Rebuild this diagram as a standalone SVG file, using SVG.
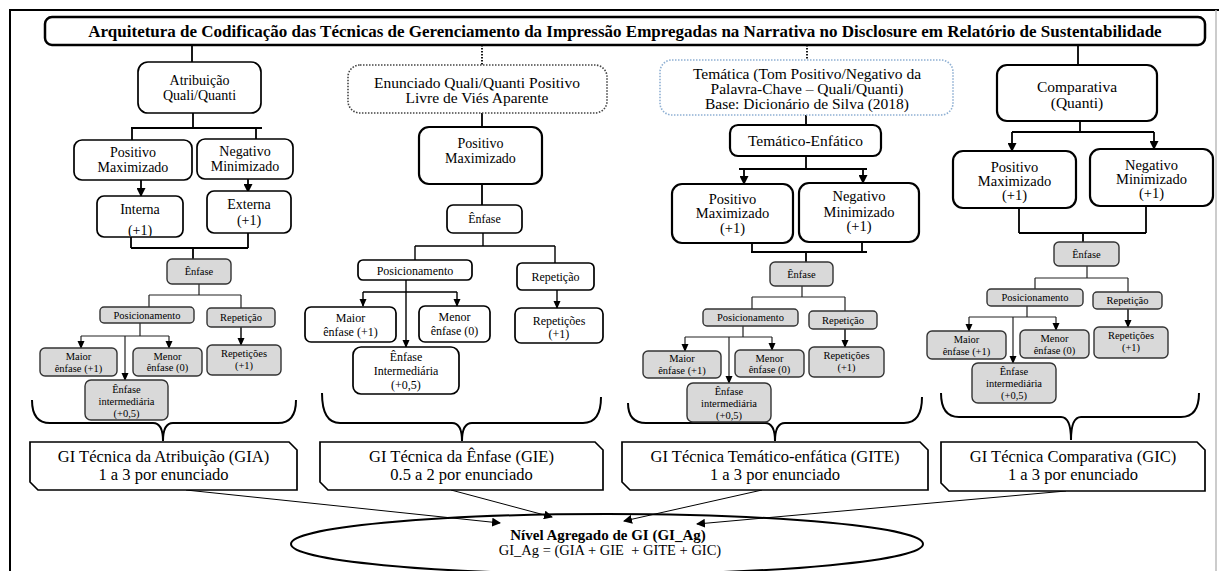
<svg xmlns="http://www.w3.org/2000/svg" width="1219" height="571" viewBox="0 0 1219 571">
<defs>
<marker id="ah" markerUnits="userSpaceOnUse" markerWidth="9" markerHeight="9" refX="8" refY="4.5" orient="auto"><path d="M0,0 L9,4.5 L0,9 Z" fill="#000"/></marker>
<marker id="as" markerUnits="userSpaceOnUse" markerWidth="8" markerHeight="8" refX="7" refY="4" orient="auto"><path d="M0,0.5 L8,4 L0,7.5 Z" fill="#000"/></marker>
<clipPath id="clipInt"><rect x="97" y="196" width="86" height="40"/></clipPath>
<style>
text{font-family:"Liberation Serif","Times New Roman",serif;text-anchor:middle;fill:#000}
.n{fill:#fff;stroke:#000;stroke-width:1.7}
.nb{fill:#fff;stroke:#000;stroke-width:2.2}
.g{fill:#d9d9d9;stroke:#333;stroke-width:1.4}
.c{fill:none;stroke:#000;stroke-width:1.8}
.cs{fill:none;stroke:#000;stroke-width:1.4}
.cg{fill:none;stroke:#222;stroke-width:1.2}
.br{fill:none;stroke:#000;stroke-width:2}
.f14{font-size:14px}
.f145{font-size:14.5px}
.f15{font-size:15.5px}
.f12{font-size:12px}
.f10{font-size:10.5px}
.gi{font-size:16.5px}
</style>
</defs>
<rect width="1219" height="571" fill="#fff"/>
<!-- outer frame -->
<path d="M10,571 L10,10 L1219,10" fill="none" stroke="#000" stroke-width="2"/>
<line x1="1216" y1="10" x2="1216" y2="571" stroke="#bbb" stroke-width="1.5"/>

<g id="title">
<rect x="45" y="17" width="1160" height="28" rx="7" fill="#fff" stroke="#000" stroke-width="2.5"/>
<text x="625" y="36.5" font-size="17" font-weight="bold">Arquitetura de Codificação das Técnicas de Gerenciamento da Impressão Empregadas na Narrativa no Disclosure em Relatório de Sustentabilidade</text>
</g>

<g id="connectors">
<!-- from title -->
<line x1="192" y1="45" x2="192" y2="62" class="c"/>
<line x1="482" y1="45" x2="482" y2="65" stroke="#000" stroke-width="1.8" stroke-dasharray="1.5 1.5"/>
<line x1="807" y1="45" x2="807" y2="60" stroke="#000" stroke-width="1.8" stroke-dasharray="1.5 1.5"/>
<line x1="1078" y1="45" x2="1078" y2="65" class="c"/>
<!-- column 1 -->
<path class="c" d="M193,113 V128 M131,128 H262 M132,128 V140 M256,127 V139"/>
<line class="c" x1="141" y1="180" x2="141" y2="196" marker-end="url(#ah)"/>
<line class="c" x1="248" y1="179" x2="248" y2="192" marker-end="url(#ah)"/>
<path class="c" d="M131,237 V248 M248,233 V248 M131,248 H248 M193,248 V259"/>
<path class="cg" d="M199,284 V295 M149,295 H241 M149,295 V307 M241,295 V308 M140,323 V336 M81,336 H169"/>
<line class="cg" x1="81" y1="336" x2="81" y2="348" marker-end="url(#as)"/>
<line class="cg" x1="169" y1="336" x2="169" y2="348" marker-end="url(#as)"/>
<line class="cg" x1="125" y1="336" x2="125" y2="380" marker-end="url(#as)"/>
<line class="cs" x1="241" y1="327" x2="241" y2="345" marker-end="url(#as)"/>
<!-- column 2 -->
<path class="c" d="M482,113 V127 M482,184 V205"/>
<path class="cs" d="M483,233 V246 M415,246 H555 M415,246 V260 M555,246 V263 M363,292 H457"/>
<line class="cs" x1="406" y1="280" x2="406" y2="347" marker-end="url(#as)"/>
<line class="cs" x1="363" y1="292" x2="363" y2="306" marker-end="url(#as)"/>
<line class="cs" x1="457" y1="292" x2="457" y2="306" marker-end="url(#as)"/>
<line class="cs" x1="557" y1="290" x2="557" y2="308" marker-end="url(#as)"/>
<!-- column 3 -->
<path class="c" d="M806,115 V125 M806,156 V169 M739,169 H867"/>
<line class="c" x1="744" y1="169" x2="744" y2="184" marker-end="url(#ah)"/>
<line class="c" x1="863" y1="169" x2="863" y2="183" marker-end="url(#ah)"/>
<path class="c" d="M752,243 V252 M862,242 V252 M751,252 H867 M806,252 V262"/>
<path class="cg" d="M802,286 V297 M752,297 H845 M752,297 V309 M845,297 V311 M743,326 V337 M685,337 H772"/>
<line class="cg" x1="685" y1="337" x2="685" y2="351" marker-end="url(#as)"/>
<line class="cg" x1="772" y1="337" x2="772" y2="350" marker-end="url(#as)"/>
<line class="cg" x1="729" y1="337" x2="729" y2="383" marker-end="url(#as)"/>
<line class="cs" x1="845" y1="329" x2="845" y2="347" marker-end="url(#as)"/>
<!-- column 4 -->
<path class="c" d="M1080,121 V132 M1012,132 H1154"/>
<line class="c" x1="1012" y1="132" x2="1012" y2="151" marker-end="url(#ah)"/>
<line class="c" x1="1154" y1="132" x2="1154" y2="149" marker-end="url(#ah)"/>
<path class="c" d="M1019,208 V233 M1146,206 V233 M1019,233 H1146 M1083,233 V242"/>
<path class="cg" d="M1087,266 V278 M1035,278 H1128 M1035,278 V289 M1128,278 V292 M1027,306 V317 M969,317 H1056"/>
<line class="cg" x1="969" y1="317" x2="969" y2="331" marker-end="url(#as)"/>
<line class="cg" x1="1056" y1="317" x2="1056" y2="330" marker-end="url(#as)"/>
<line class="cg" x1="1013" y1="317" x2="1013" y2="363" marker-end="url(#as)"/>
<line class="cs" x1="1128" y1="309" x2="1128" y2="327" marker-end="url(#as)"/>
<!-- braces -->
<path class="br" d="M32,400 Q32,423 50,423 L153,423 Q163,423 163,441 Q163,423 173,423 L278,423 Q296,423 296,400"/>
<path class="br" d="M322,393 Q322,423 340,423 L452,423 Q462,423 462,441 Q462,423 472,423 L583,423 Q601,423 601,397"/>
<path class="br" d="M628,403 Q628,423 646,423 L765,423 Q775,423 775,441 Q775,423 785,423 L904,423 Q922,423 922,397"/>
<path class="br" d="M941,393 Q941,417 959,417 L1061,417 Q1071,417 1071,440 Q1071,417 1081,417 L1181,417 Q1199,417 1199,393"/>
<!-- to aggregate -->
<line x1="186" y1="490" x2="500" y2="523" stroke="#000" stroke-width="1" marker-end="url(#ah)"/>
<line x1="451" y1="490" x2="552" y2="517" stroke="#000" stroke-width="1" marker-end="url(#ah)"/>
<line x1="762" y1="490" x2="624" y2="521" stroke="#000" stroke-width="1" marker-end="url(#ah)"/>
<line x1="1066" y1="491" x2="697" y2="524" stroke="#000" stroke-width="1" marker-end="url(#ah)"/>
</g>

<!-- Column 1 -->
<g id="atribuicao"><rect class="n" x="138" y="62" width="123" height="51" rx="10"/><text class="f14" x="199.5" y="85">Atribuição</text><text class="f14" x="199.5" y="100">Quali/Quanti</text></g>
<g id="c1-positivo"><rect class="n" x="74" y="140" width="118" height="40" rx="8"/><text class="f14" x="133" y="157">Positivo</text><text class="f14" x="133" y="172">Maximizado</text></g>
<g id="c1-negativo"><rect class="n" x="197" y="139" width="96" height="40" rx="8"/><text class="f14" x="245" y="156">Negativo</text><text class="f14" x="245" y="171">Minimizado</text></g>
<g id="c1-interna"><rect class="n" x="97" y="196" width="86" height="41" rx="7"/><text class="f14" x="140" y="214">Interna</text><text class="f14" x="140" y="234.5" clip-path="url(#clipInt)">(+1)</text></g>
<g id="c1-externa"><rect class="n" x="207" y="191" width="84" height="42" rx="7"/><text class="f14" x="249" y="209">Externa</text><text class="f14" x="249" y="225">(+1)</text></g>
<g id="c1-enfase"><rect class="g" x="167" y="259" width="64" height="25" rx="5"/><text class="f10" x="199" y="275">Ênfase</text></g>
<g id="c1-posic"><rect class="g" x="100" y="307" width="94" height="16" rx="4"/><text class="f10" x="147" y="319">Posicionamento</text></g>
<g id="c1-repet"><rect class="g" x="207" y="308" width="68" height="19" rx="4"/><text class="f10" x="241" y="321">Repetição</text></g>
<g id="c1-maior"><rect class="g" x="40" y="348" width="77" height="28" rx="5"/><text class="f10" x="78.5" y="360">Maior</text><text class="f10" x="78.5" y="372">ênfase (+1)</text></g>
<g id="c1-menor"><rect class="g" x="133" y="348" width="69" height="28" rx="5"/><text class="f10" x="167.5" y="360">Menor</text><text class="f10" x="167.5" y="371">ênfase (0)</text></g>
<g id="c1-repeticoes"><rect class="g" x="207" y="345" width="74" height="30" rx="5"/><text class="f10" x="244" y="357">Repetições</text><text class="f10" x="244" y="369">(+1)</text></g>
<g id="c1-intermed"><rect class="g" x="85" y="380" width="83" height="40" rx="6"/><text class="f10" x="126.5" y="393">Ênfase</text><text class="f10" x="126.5" y="405">intermediária</text><text class="f10" x="126.5" y="417">(+0,5)</text></g>

<!-- Column 2 -->
<g id="enunciado"><rect x="348" y="65" width="259" height="48" rx="12" fill="#fff" stroke="#444" stroke-width="1.6" stroke-dasharray="1.5 1.5"/><text class="f15" x="477" y="88">Enunciado Quali/Quanti Positivo</text><text class="f15" x="477" y="103">Livre de Viés Aparente</text></g>
<g id="c2-positivo"><rect class="nb" x="419" y="127" width="123" height="57" rx="10"/><text class="f14" x="480.5" y="148">Positivo</text><text class="f14" x="480.5" y="163">Maximizado</text></g>
<g id="c2-enfase"><rect class="n" x="447" y="205" width="75" height="28" rx="6"/><text class="f12" x="484.5" y="223">Ênfase</text></g>
<g id="c2-posic"><rect class="n" x="358" y="260" width="114" height="20" rx="5"/><text class="f12" x="415" y="275">Posicionamento</text></g>
<g id="c2-repet"><rect class="n" x="517" y="263" width="77" height="27" rx="5"/><text class="f12" x="555.5" y="281">Repetição</text></g>
<g id="c2-maior"><rect class="n" x="305" y="307" width="91" height="35" rx="6"/><text class="f12" x="350.5" y="322">Maior</text><text class="f12" x="350.5" y="336">ênfase (+1)</text></g>
<g id="c2-menor"><rect class="n" x="419" y="306" width="71" height="36" rx="6"/><text class="f12" x="454.5" y="321">Menor</text><text class="f12" x="454.5" y="335">ênfase (0)</text></g>
<g id="c2-repeticoes"><rect class="n" x="515" y="308" width="88" height="35" rx="6"/><text class="f12" x="559" y="325">Repetições</text><text class="f12" x="559" y="338">(+1)</text></g>
<g id="c2-intermed"><rect class="n" x="353" y="347" width="106" height="47" rx="8"/><text class="f12" x="406" y="361">Ênfase</text><text class="f12" x="406" y="375">Intermediária</text><text class="f12" x="406" y="389">(+0,5)</text></g>

<!-- Column 3 -->
<g id="tematica"><rect x="660" y="60" width="293" height="55" rx="12" fill="#fff" stroke="#8fb0d3" stroke-width="1.6" stroke-dasharray="1.5 1.5"/><text class="f15" x="807" y="79">Temática (Tom Positivo/Negativo da</text><text class="f15" x="807" y="94">Palavra-Chave – Quali/Quanti)</text><text class="f15" x="807" y="109">Base: Dicionário de Silva (2018)</text></g>
<g id="tematico-enfatico"><rect class="nb" x="730" y="125" width="151" height="31" rx="8"/><text class="f15" x="805.5" y="146">Temático-Enfático</text></g>
<g id="c3-positivo"><rect class="nb" x="672" y="184" width="121" height="59" rx="10"/><text class="f145" x="732.5" y="204">Positivo</text><text class="f145" x="732.5" y="218">Maximizado</text><text class="f145" x="732.5" y="233">(+1)</text></g>
<g id="c3-negativo"><rect class="nb" x="799" y="183" width="120" height="59" rx="10"/><text class="f145" x="859" y="201">Negativo</text><text class="f145" x="859" y="217">Minimizado</text><text class="f145" x="859" y="231">(+1)</text></g>
<g id="c3-enfase"><rect class="g" x="770" y="262" width="63" height="24" rx="5"/><text class="f10" x="801.5" y="278">Ênfase</text></g>
<g id="c3-posic"><rect class="g" x="703" y="309" width="95" height="17" rx="4"/><text class="f10" x="750.5" y="321">Posicionamento</text></g>
<g id="c3-repet"><rect class="g" x="809" y="311" width="68" height="18" rx="4"/><text class="f10" x="843" y="324">Repetição</text></g>
<g id="c3-maior"><rect class="g" x="643" y="351" width="78" height="27" rx="5"/><text class="f10" x="682" y="362">Maior</text><text class="f10" x="682" y="374">ênfase (+1)</text></g>
<g id="c3-menor"><rect class="g" x="735" y="350" width="69" height="27" rx="5"/><text class="f10" x="769.5" y="362">Menor</text><text class="f10" x="769.5" y="373">ênfase (0)</text></g>
<g id="c3-repeticoes"><rect class="g" x="809" y="347" width="75" height="30" rx="5"/><text class="f10" x="846.5" y="359">Repetições</text><text class="f10" x="846.5" y="371">(+1)</text></g>
<g id="c3-intermed"><rect class="g" x="687" y="383" width="84" height="39" rx="6"/><text class="f10" x="729" y="395">Ênfase</text><text class="f10" x="729" y="407">intermediária</text><text class="f10" x="729" y="419">(+0,5)</text></g>

<!-- Column 4 -->
<g id="comparativa"><rect class="nb" x="997" y="65" width="160" height="56" rx="10"/><text class="f15" x="1077" y="92">Comparativa</text><text class="f15" x="1077" y="108">(Quanti)</text></g>
<g id="c4-positivo"><rect class="nb" x="953" y="151" width="123" height="57" rx="10"/><text class="f145" x="1014.5" y="172">Positivo</text><text class="f145" x="1014.5" y="186">Maximizado</text><text class="f145" x="1014.5" y="200">(+1)</text></g>
<g id="c4-negativo"><rect class="nb" x="1090" y="149" width="123" height="57" rx="10"/><text class="f145" x="1151.5" y="170">Negativo</text><text class="f145" x="1151.5" y="184">Minimizado</text><text class="f145" x="1151.5" y="198">(+1)</text></g>
<g id="c4-enfase"><rect class="g" x="1054" y="242" width="65" height="24" rx="5"/><text class="f10" x="1086.5" y="258">Ênfase</text></g>
<g id="c4-posic"><rect class="g" x="987" y="289" width="96" height="17" rx="4"/><text class="f10" x="1035" y="301">Posicionamento</text></g>
<g id="c4-repet"><rect class="g" x="1093" y="292" width="69" height="17" rx="4"/><text class="f10" x="1127.5" y="304">Repetição</text></g>
<g id="c4-maior"><rect class="g" x="927" y="331" width="79" height="28" rx="5"/><text class="f10" x="966.5" y="343">Maior</text><text class="f10" x="966.5" y="355">ênfase (+1)</text></g>
<g id="c4-menor"><rect class="g" x="1020" y="330" width="69" height="28" rx="5"/><text class="f10" x="1054.5" y="342">Menor</text><text class="f10" x="1054.5" y="354">ênfase (0)</text></g>
<g id="c4-repeticoes"><rect class="g" x="1094" y="327" width="74" height="31" rx="5"/><text class="f10" x="1131" y="339">Repetições</text><text class="f10" x="1131" y="351">(+1)</text></g>
<g id="c4-intermed"><rect class="g" x="972" y="363" width="84" height="40" rx="6"/><text class="f10" x="1014" y="375">Ênfase</text><text class="f10" x="1014" y="387">intermediária</text><text class="f10" x="1014" y="399">(+0,5)</text></g>

<!-- GI boxes -->
<g id="gia"><path class="n" d="M30,442 H289 L297,450 V490 H38 L30,482 Z"/><text class="gi" x="163.5" y="462">GI Técnica da Atribuição (GIA)</text><text class="gi" x="163.5" y="480">1 a 3 por enunciado</text></g>
<g id="gie"><path class="n" d="M320,442 H595 L603,450 V490 H328 L320,482 Z"/><text class="gi" x="461.5" y="462">GI Técnica da Ênfase (GIE)</text><text class="gi" x="461.5" y="480">0.5 a 2 por enunciado</text></g>
<g id="gite"><path class="n" d="M622,442 H920 L928,450 V490 H630 L622,482 Z"/><text class="gi" x="775" y="462">GI Técnica Temático-enfática (GITE)</text><text class="gi" x="775" y="480">1 a 3 por enunciado</text></g>
<g id="gic"><path class="n" d="M941,442 H1197 L1205,450 V491 H949 L941,483 Z"/><text class="gi" x="1073" y="462">GI Técnica Comparativa (GIC)</text><text class="gi" x="1073" y="480">1 a 3 por enunciado</text></g>

<g id="agregado">
<ellipse cx="607" cy="544" rx="316" ry="30" fill="none" stroke="#000" stroke-width="2"/>
<text x="608" y="540" font-size="15" font-weight="bold">Nível Agregado de GI (GI_Ag)</text>
<text x="610" y="555" font-size="14.5" xml:space="preserve">GI_Ag = (GIA + GIE  + GITE + GIC)</text>
</g>
</svg>
